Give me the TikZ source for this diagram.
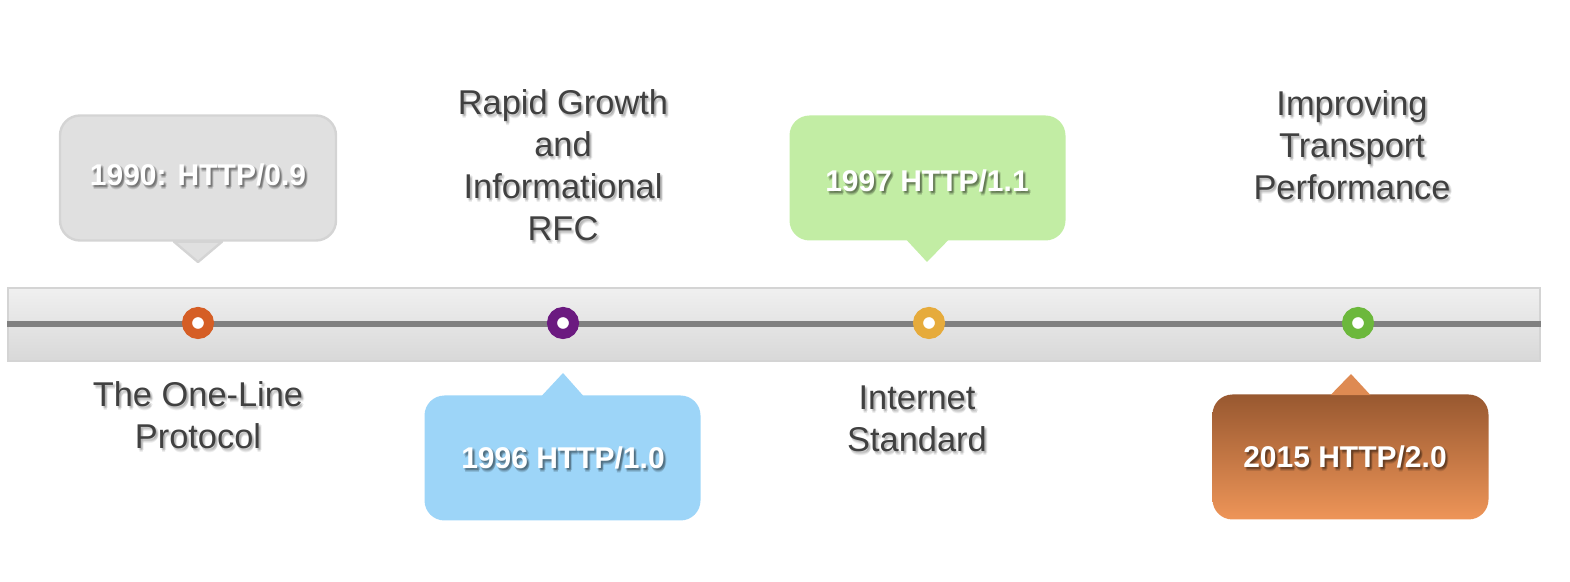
\documentclass[tikz,border=0pt]{standalone}
\usepackage{fontspec}
\setmainfont{Liberation Sans}
\usetikzlibrary{calc}
\definecolor{txtgray}{HTML}{404040}
\definecolor{boxgray}{HTML}{E0E0E0}
\definecolor{boxgrayline}{HTML}{D4D4D4}
\definecolor{boxgreen}{HTML}{C2EDA4}
\definecolor{boxblue}{HTML}{9DD5F8}
\definecolor{boxbrowntop}{HTML}{985830}
\definecolor{boxbrownbot}{HTML}{EE9558}
\definecolor{boxbrowntip}{HTML}{DE8A52}
\definecolor{barlight}{HTML}{F0F0F0}
\definecolor{bardark}{HTML}{D8D8D8}
\definecolor{barline}{HTML}{D4D4D4}
\definecolor{axis}{HTML}{808080}
\definecolor{corange}{HTML}{D55E25}
\definecolor{cpurple}{HTML}{6B1A80}
\definecolor{cgold}{HTML}{E6AB3C}
\definecolor{cgreen}{HTML}{6CB83C}
\tikzset{
  lbl/.style={font=\fontsize{17.2}{21}\selectfont, text=txtgray, align=center, inner sep=0pt},
  lblshadow/.style={lbl, text=black, text opacity=0.07},
  boxtxt/.style={font=\bfseries\fontsize{15}{18}\selectfont, text=white, inner sep=0pt},
  boxshadow/.style={boxtxt, text=black, text opacity=0.12},
  callout/.style={rectangle, rounded corners=10pt, minimum width=138pt, minimum height=62.5pt, inner sep=0pt},
  dot/.style={circle, fill=white, line width=5pt, minimum size=11pt, inner sep=0pt},
}
\begin{document}
\begin{tikzpicture}[x=0.5pt, y=-0.5pt]
\useasboundingbox (0,0) rectangle (1570,582);
% timeline bar
\node[rectangle, minimum width=766pt, minimum height=36.5pt, inner sep=0pt, top color=barlight, bottom color=bardark, draw=barline, line width=1pt] (bar) at (774,324.5) {};
\draw[axis, line width=3pt] (bar.west) -- (bar.east);
% dots
\node[dot, draw=corange] (c1) at (198,323) {};
\node[dot, draw=cpurple] (c2) at (563,323) {};
\node[dot, draw=cgold] (c3) at (929,323) {};
\node[dot, draw=cgreen] (c4) at (1358,323) {};
% callouts
\node[callout, fill=boxgray, draw=boxgrayline, line width=1.2pt] (b1) at (198,178) {};
\coordinate (t1) at (198,262);
\filldraw[fill=boxgray, draw=boxgrayline, line width=1.2pt, line join=round] ($(b1.south)+(-24,0)$) -- (t1) -- ($(b1.south)+(24,0)$) -- cycle;
\node[callout, fill=boxgreen] (b3) at (927.5,178) {};
\coordinate (t3) at (927,262);
\fill[boxgreen] ($(b3.south)+(-21,-1)$) -- (t3) -- ($(b3.south)+(21,-1)$) -- cycle;
\node[callout, fill=boxblue] (b2) at (562.5,458) {};
\coordinate (t2) at (563,373);
\fill[boxblue] ($(b2.north)+(-21,1)$) -- (t2) -- ($(b2.north)+(21,1)$) -- cycle;
\node[callout, top color=boxbrowntop, bottom color=boxbrownbot] (b4) at (1350.5,457) {};
\coordinate (t4) at (1351,374);
\fill[boxbrowntip] ($(b4.north)+(-20,1)$) -- (t4) -- ($(b4.north)+(20,1)$) -- cycle;
% soft shadows (several offset copies)
\foreach \dx/\dy [count=\k] in {1/2, 3/2, 2/1, 2/4, 2/3} {
  \node[boxshadow] (sa\k) at (198+\dx,175+\dy) {1990: HTTP/0.9};
  \node[boxshadow] (sb\k) at (927+\dx,181+\dy) {1997 HTTP/1.1};
  \node[boxshadow] (sc\k) at (563+\dx,458+\dy) {1996 HTTP/1.0};
  \node[boxshadow] (sd\k) at (1345+\dx,457+\dy) {2015 HTTP/2.0};
  \node[lblshadow] (la\k) at (198+\dx,415+\dy) {The One-Line\\Protocol};
  \node[lblshadow] (lb\k) at (563+\dx,165+\dy) {Rapid Growth\\and\\Informational\\RFC};
  \node[lblshadow] (lc\k) at (917+\dx,419+\dy) {Internet\\Standard};
  \node[lblshadow] (ld\k) at (1352+\dx,145+\dy) {Improving\\Transport\\Performance};
}
% box texts
\node[boxtxt] (x1) at (198,175) {1990: HTTP/0.9};
\node[boxtxt] (x3) at (927,181) {1997 HTTP/1.1};
\node[boxtxt] (x2) at (563,458) {1996 HTTP/1.0};
\node[boxtxt] (x4) at (1345,457) {2015 HTTP/2.0};
% labels
\node[lbl] (l1) at (198,415) {The One-Line\\Protocol};
\node[lbl] (l2) at (563,165) {Rapid Growth\\and\\Informational\\RFC};
\node[lbl] (l3) at (917,419) {Internet\\Standard};
\node[lbl] (l4) at (1352,145) {Improving\\Transport\\Performance};
\end{tikzpicture}
\end{document}
